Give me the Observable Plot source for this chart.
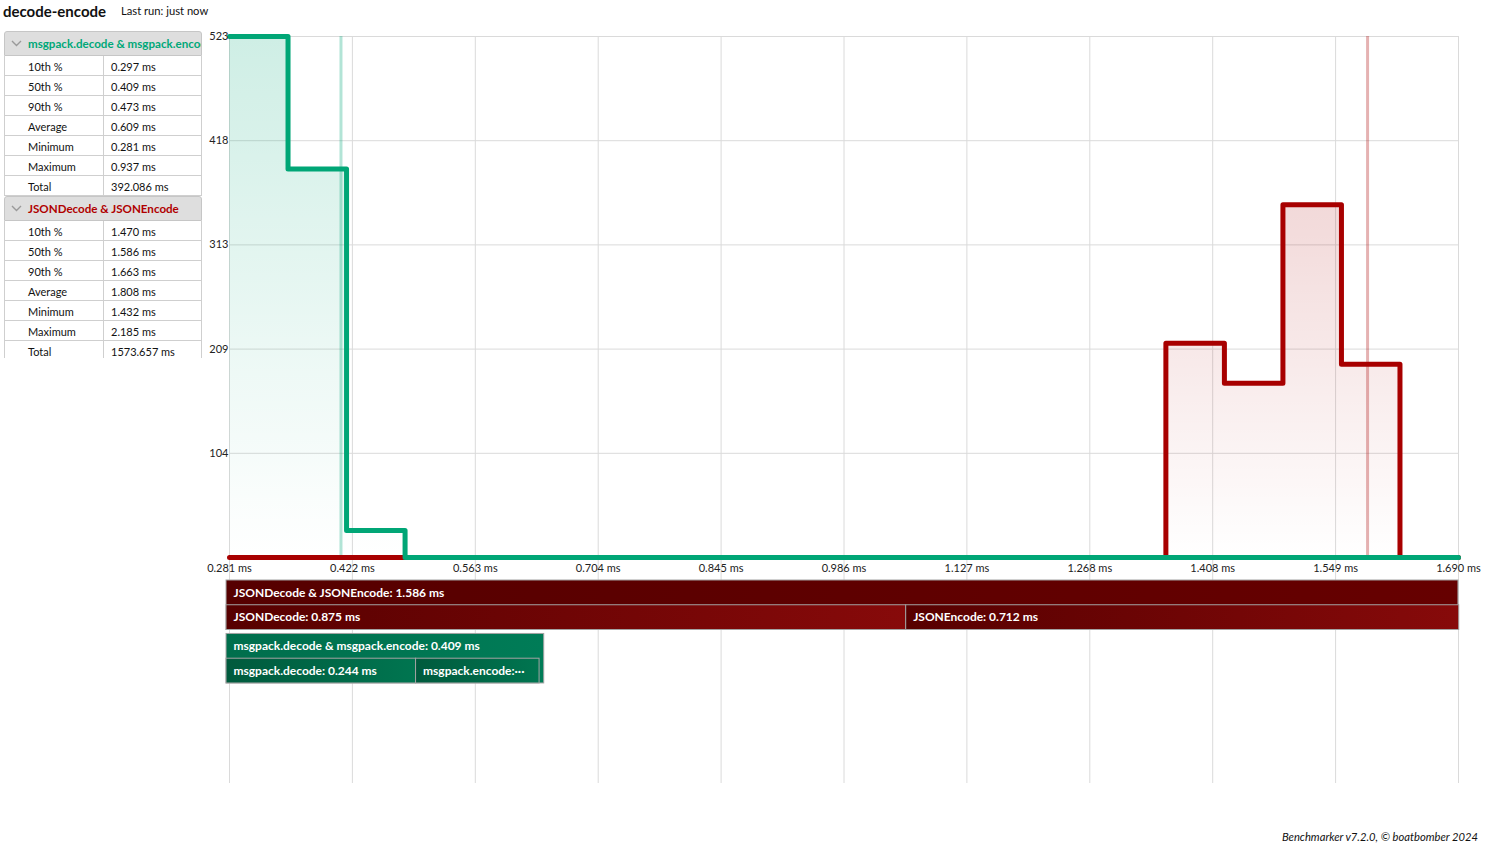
<!DOCTYPE html>
<html>
<head>
<meta charset="utf-8">
<script src="https://cdn.jsdelivr.net/npm/d3@7"></script>
<script src="https://cdn.jsdelivr.net/npm/@observablehq/plot@0.6"></script>
<style>
  html, body { margin: 0; padding: 0; background: #fff; }
  body { font-family: Lato, "Noto Sans", sans-serif; color: #111; }
  #root { position: relative; width: 1486px; height: 851px; overflow: hidden; }
  .abs { position: absolute; }
  .title { left: 3px; top: 2px; font-size: 15px; font-weight: 700; color: #111; }
  .lastrun { left: 121px; top: 4px; font-size: 11.2px; color: #111; }
  .panel { left: 4px; top: 31px; width: 198px; height: 327px; overflow: hidden; }
  .head { height: 25px; background: #dedede; border: 1px solid #c6c6c6; border-radius: 3px 3px 0 0;
          box-sizing: border-box; display: flex; align-items: center; font-size: 11.6px; font-weight: 700;
          white-space: nowrap; overflow: hidden; }
  .chev { width: 23px; flex: none; display: flex; justify-content: center; }
  .row { height: 20px; display: flex; border: 1px solid #cfcfcf; border-top: none; box-sizing: border-box; font-size: 11px; }
  .row .l { width: 99px; flex: none; padding-left: 23px; box-sizing: border-box; border-right: 1px solid #cfcfcf; line-height: 21px; }
  .row .v { padding-left: 7px; line-height: 21px; white-space: nowrap; }
  .footer { right: 8px; top: 830px; font-size: 11.2px; font-style: italic; color: #111; }
</style>
</head>
<body>
<div id="root"></div>
<script>
// ---------------- data ----------------
const chartTitle = "decode-encode";
const lastRunText = "Last run: just now";
const footerText = "Benchmarker v7.2.0, © boatbomber 2024";

const statLabels = ["10th %", "50th %", "90th %", "Average", "Minimum", "Maximum", "Total"];
const seriesNames = ["msgpack.decode & msgpack.encode", "JSONDecode & JSONEncode"];
const msgpackStats = [0.297, 0.409, 0.473, 0.609, 0.281, 0.937, 392.086];
const jsonStats = [1.470, 1.586, 1.663, 1.808, 1.432, 2.185, 1573.657];

// histogram (x in ms, 21 equal bins over the domain)
const xDomainMs = [0.2812, 1.69025];
const msgpackCounts = [523, 390, 27, 0, 0, 0, 0, 0, 0, 0, 0, 0, 0, 0, 0, 0, 0, 0, 0, 0, 0];
const jsonCounts    = [0, 0, 0, 0, 0, 0, 0, 0, 0, 0, 0, 0, 0, 0, 0, 0, 215, 175, 354, 194, 0];
const yMax = 523;

// flame bars (ms)
const flameGroups = ["JSONDecode & JSONEncode", "msgpack.decode & msgpack.encode"];
const flameTotals = [1.586, 0.409];
const flameChildNames = [["JSONDecode", "JSONEncode"], ["msgpack.decode", "msgpack.encode"]];
const flameChildMs = [[0.875, 0.712], [0.244, 0.159]];

// ---------------- style ----------------
const FONT = "Lato, 'Noto Sans', sans-serif";
const GREEN = "#00a676";
const RED = "#a80000";
const seriesColors = ["#00a878", "#b00000"];
const W = 1486;

const root = d3.select("#root");

// ---------------- histogram ----------------
const [x0, x1] = xDomainMs;
const binCount = msgpackCounts.length;
const binW = (x1 - x0) / binCount;
function stepPoints(counts) {
  const pts = counts.map((c, i) => ({x: x0 + i * binW, y: c}));
  pts.push({x: x1, y: counts[counts.length - 1]});
  return pts;
}
const xTicks = d3.range(11).map(k => x0 + k * (x1 - x0) / 10);
const yTicks = d3.range(1, 6).map(k => yMax * k / 5);

function gradient(defs, id, stops, vertical) {
  const g = defs.append("linearGradient").attr("id", id)
    .attr("x1", 0).attr("y1", 0).attr("x2", vertical ? 0 : 1).attr("y2", vertical ? 1 : 0);
  stops.forEach(([o, c, a]) => g.append("stop").attr("offset", o).attr("stop-color", c).attr("stop-opacity", a));
}

const histDefs = () => {
  const d = d3.create("svg:defs");
  gradient(d, "hgGreen", [[0, GREEN, 0.19], [1, GREEN, 0]], true);
  gradient(d, "hgRed", [[0, RED, 0.15], [1, RED, 0]], true);
  return d.node();
};

const msgPts = stepPoints(msgpackCounts);
const jsonPts = stepPoints(jsonCounts);

const hist = Plot.plot({
  width: W, height: 790,
  marginTop: 36, marginLeft: 229, marginRight: 28, marginBottom: 233,
  style: {fontFamily: FONT, fontSize: "11px", color: "#222", background: "none", overflow: "visible"},
  x: {domain: xDomainMs, label: null},
  y: {domain: [0, yMax], label: null},
  marks: [
    histDefs,
    Plot.ruleY(yTicks, {stroke: "#dadada"}),
    Plot.ruleX(xTicks, {stroke: "#dadada", insetBottom: -226}),
    Plot.areaY(jsonPts, {x: "x", y: "y", curve: "step-after", fill: "url(#hgRed)"}),
    Plot.areaY(msgPts, {x: "x", y: "y", curve: "step-after", fill: "url(#hgGreen)"}),
    Plot.ruleX([msgpackStats[1]], {stroke: GREEN, strokeOpacity: 0.3, strokeWidth: 3}),
    Plot.ruleX([jsonStats[1]], {stroke: RED, strokeOpacity: 0.3, strokeWidth: 3}),
    Plot.lineY(jsonPts, {x: "x", y: "y", curve: "step-after", stroke: RED, strokeWidth: 5, strokeLinejoin: "round"}),
    Plot.lineY(msgPts, {x: "x", y: "y", curve: "step-after", stroke: GREEN, strokeWidth: 5, strokeLinejoin: "round"}),
    Plot.axisY(yTicks, {tickSize: 0, tickPadding: 1, label: null, tickFormat: d => String(Math.floor(d))}),
    Plot.axisX(xTicks, {tickSize: 0, tickPadding: 7, label: null, tickFormat: d => d.toFixed(3) + " ms"})
  ]
});
d3.select(hist).style("position", "absolute").style("left", "0px").style("top", "0px");
root.node().appendChild(hist);

// ---------------- flame bars ----------------
const unit = 24.75, gapUnits = 0.16;
const flameRows = [];
const flameLabels = [];
const flameMax = d3.max(flameTotals);
const pxPerMs = (1458 - 226) / flameMax;
const FLAME_FONT_SIZE = 12;
const ctx = document.createElement("canvas").getContext("2d");
ctx.font = `700 ${FLAME_FONT_SIZE}px ${FONT}`;
function fitLabel(text, widthPx) {
  const avail = widthPx - 18;
  if (ctx.measureText(text).width <= avail) return text;
  let t = text;
  while (t.length > 1 && ctx.measureText(t + "···").width > avail) t = t.slice(0, -1);
  return t.trimEnd() + "···";
}
flameGroups.forEach((name, g) => {
  const top = g * (2 + gapUnits);
  const kind = g === 0 ? "r" : "g";
  flameRows.push({x1: 0, x2: flameTotals[g], y1: top, y2: top + 2, fill: `url(#fl${kind}0)`});
  flameLabels.push({x: 0, y: top + 0.5, text: fitLabel(`${name}: ${flameTotals[g].toFixed(3)} ms`, flameTotals[g] * pxPerMs)});
  let start = 0;
  flameChildNames[g].forEach((cn, j) => {
    const ms = flameChildMs[g][j];
    flameRows.push({x1: start, x2: start + ms, y1: top + 1, y2: top + 2, fill: `url(#fl${kind}1)`});
    flameLabels.push({x: start, y: top + 1.5, text: fitLabel(`${cn}: ${ms.toFixed(3)} ms`, ms * pxPerMs)});
    start += ms;
  });
});

const flameDefs = () => {
  const d = d3.create("svg:defs");
  gradient(d, "flr0", [[0, "#560000", 1], [1, "#660000", 1]], false);
  gradient(d, "flr1", [[0, "#570000", 1], [1, "#870a0a", 1]], false);
  gradient(d, "flg0", [[0, "#006e4c", 1], [1, "#007c57", 1]], false);
  gradient(d, "flg1", [[0, "#005a3d", 1], [1, "#007550", 1]], false);
  return d.node();
};

const yTop = 5;
const flameH = yTop + (4 + gapUnits) * unit + 4;
const flame = Plot.plot({
  width: W, height: flameH,
  marginTop: yTop, marginBottom: flameH - yTop - (4 + gapUnits) * unit, marginLeft: 226, marginRight: 28,
  style: {fontFamily: FONT, fontSize: FLAME_FONT_SIZE + "px", background: "none", overflow: "visible"},
  x: {domain: [0, flameMax], axis: null},
  y: {domain: [0, 4 + gapUnits], reverse: true, axis: null},
  color: {type: "identity"},
  marks: [
    flameDefs,
    Plot.rectX(flameRows, {x1: "x1", x2: "x2", y1: "y1", y2: "y2", fill: "fill", stroke: "#a3a3a3", strokeWidth: 1}),
    Plot.text(flameLabels, {x: "x", y: "y", text: "text", dx: 7, textAnchor: "start", fill: "white", fontWeight: 700})
  ]
});
d3.select(flame).style("position", "absolute").style("left", "0px").style("top", (580 - yTop) + "px");
root.node().appendChild(flame);

// ---------------- title ----------------
root.append("div").attr("class", "abs title").text(chartTitle);
root.append("div").attr("class", "abs lastrun").text(lastRunText);

// ---------------- stats panel ----------------
const panel = root.append("div").attr("class", "abs panel");
[msgpackStats, jsonStats].forEach((stats, s) => {
  const head = panel.append("div").attr("class", "head");
  head.append("span").attr("class", "chev")
    .html('<svg width="11" height="7"><polyline points="1,1 5.5,5.5 10,1" fill="none" stroke="#9a9a9a" stroke-width="1.4"/></svg>');
  head.append("span").style("color", seriesColors[s]).text(seriesNames[s]);
  statLabels.forEach((lab, i) => {
    const row = panel.append("div").attr("class", "row");
    row.append("div").attr("class", "l").text(lab);
    row.append("div").attr("class", "v").text(stats[i].toFixed(3) + " ms");
  });
});

// ---------------- footer ----------------
root.append("div").attr("class", "abs footer").text(footerText);
</script>
</body>
</html>
